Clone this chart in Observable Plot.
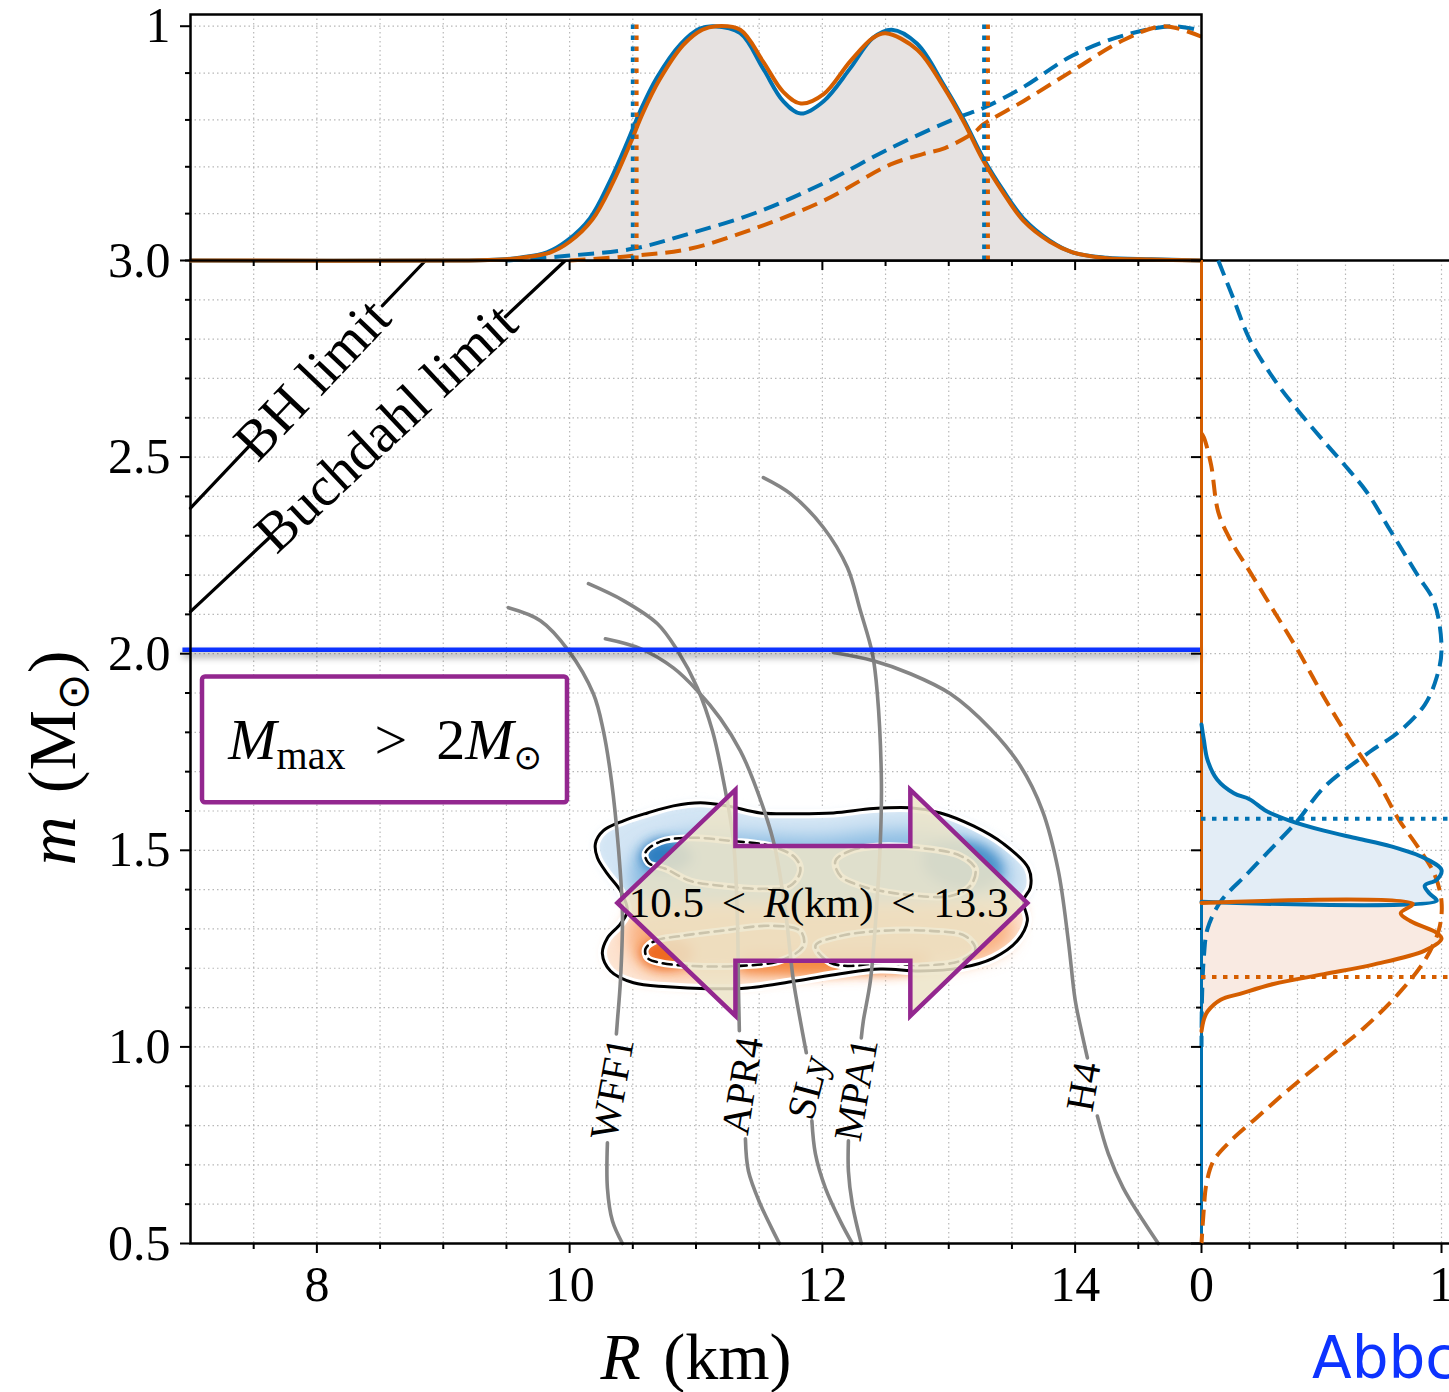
<!DOCTYPE html>
<html>
<head>
<meta charset="utf-8">
<script src="https://cdn.jsdelivr.net/npm/d3@7"></script>
<script src="https://cdn.jsdelivr.net/npm/@observablehq/plot@0.6"></script>
<style>
  html, body { margin: 0; padding: 0; background: #ffffff; overflow: hidden; }
  #wrap { position: relative; width: 1449px; height: 1392px; overflow: hidden; background: #ffffff; }
  #wrap > svg { position: absolute; left: 0; top: 0; background: transparent !important; max-width: none !important; }
  #tag { position: absolute; left: 1312px; top: 1329px; font-family: "DejaVu Sans", sans-serif; font-size: 58px; line-height: 58px; color: #0d33ff; white-space: nowrap; }
</style>
</head>
<body>
<svg width="0" height="0" style="position:absolute;left:0;top:0">
  <defs>
    <filter id="blur3" filterUnits="userSpaceOnUse" x="0" y="0" width="1449" height="1392"><feGaussianBlur stdDeviation="3"/></filter>
    <filter id="blur4" filterUnits="userSpaceOnUse" x="0" y="0" width="1449" height="1392"><feGaussianBlur stdDeviation="4"/></filter>
    <filter id="blur6" filterUnits="userSpaceOnUse" x="0" y="0" width="1449" height="1392"><feGaussianBlur stdDeviation="6"/></filter>
    <filter id="blur9" filterUnits="userSpaceOnUse" x="0" y="0" width="1449" height="1392"><feGaussianBlur stdDeviation="9"/></filter>
  </defs>
</svg>
<div id="wrap"><div id="tag">Abbc</div></div>
<script>
// ======================= DATA =======================
// ticks / grids
const rMajorTicks = [8, 10, 12, 14];
const rMinorTicks = [7.5, 8.5, 9, 9.5, 10.5, 11, 11.5, 12.5, 13, 13.5, 14.5];
const rGrid = [7.5, 8, 8.5, 9, 9.5, 10, 10.5, 11, 11.5, 12, 12.5, 13, 13.5, 14, 14.5];
const mMajorTicks = [0.5, 1.0, 1.5, 2.0, 2.5, 3.0];
const mMinorTicks = [0.6, 0.7, 0.8, 0.9, 1.1, 1.2, 1.3, 1.4, 1.6, 1.7, 1.8, 1.9, 2.1, 2.2, 2.3, 2.4, 2.6, 2.7, 2.8, 2.9];
const mGrid = [0.6, 0.7, 0.8, 0.9, 1.0, 1.1, 1.2, 1.3, 1.4, 1.5, 1.6, 1.7, 1.8, 1.9, 2.0, 2.1, 2.2, 2.3, 2.4, 2.5, 2.6, 2.7, 2.8, 2.9];
const pMajorTop = [1];
const pMinorTop = [0, 0.2, 0.4, 0.6, 0.8];
const pGridTop = [0.2, 0.4, 0.6, 0.8, 1.0];
const pMajorRight = [0, 1];
const pMinorRight = [0.2, 0.4, 0.6, 0.8];
const pGridRight = [0.2, 0.4, 0.6, 0.8, 1.0];

// top marginal: [R (km), normalized density]
const topBlueSolid = [[7.0,0],[9.2,0],[9.45,0.004],[9.6,0.012],[9.82,0.035],[9.98,0.085],[10.16,0.18],[10.32,0.34],[10.46,0.51],[10.56,0.64],[10.69,0.78],[10.88,0.925],[11.03,0.99],[11.14,1.0],[11.35,0.97],[11.53,0.82],[11.69,0.68],[11.83,0.627],[12.01,0.68],[12.22,0.82],[12.40,0.95],[12.55,0.985],[12.75,0.925],[12.96,0.75],[13.12,0.60],[13.27,0.44],[13.43,0.30],[13.59,0.18],[13.80,0.085],[13.98,0.035],[14.25,0.012],[14.6,0.005],[15.0,0]];
const topOrangeSolid = [[7.0,0],[9.2,0],[9.47,0.004],[9.62,0.012],[9.85,0.035],[10.0,0.08],[10.18,0.175],[10.34,0.33],[10.48,0.50],[10.58,0.63],[10.71,0.77],[10.9,0.92],[11.05,0.985],[11.16,1.0],[11.35,0.985],[11.53,0.85],[11.69,0.72],[11.83,0.67],[12.01,0.71],[12.22,0.85],[12.40,0.95],[12.50,0.97],[12.75,0.90],[12.96,0.74],[13.12,0.59],[13.27,0.43],[13.43,0.29],[13.59,0.17],[13.80,0.08],[13.98,0.035],[14.25,0.01],[14.6,0.004],[15.0,0]];
const topBlueDashed = [[9.5,0],[9.98,0.02],[10.5,0.05],[10.95,0.115],[11.48,0.205],[12.01,0.33],[12.54,0.48],[13.07,0.61],[13.27,0.65],[13.59,0.74],[13.98,0.875],[14.38,0.96],[14.78,1.0],[15.0,0.98]];
const topOrangeDashed = [[10.0,0],[10.5,0.02],[10.95,0.05],[11.48,0.14],[12.01,0.255],[12.54,0.41],[12.80,0.455],[12.97,0.48],[13.21,0.55],[13.27,0.58],[13.59,0.68],[13.98,0.81],[14.38,0.94],[14.70,1.0],[15.0,0.955]];
const rBoundsBlue = [10.50, 13.28];
const rBoundsOrange = [10.53, 13.31];

// right marginal: [m (Msun), normalized density]; density is 0 outside these ranges
const rightBlueSolid = [[1.82,0],[1.78,0.01],[1.73,0.025],[1.68,0.065],[1.645,0.135],[1.63,0.20],[1.60,0.27],[1.575,0.37],[1.55,0.51],[1.53,0.65],[1.51,0.79],[1.48,0.93],[1.45,1.0],[1.425,0.98],[1.41,0.93],[1.39,0.95],[1.372,0.98],[1.369,0]];
const rightOrangeSolid = [[1.366,0],[1.364,0.88],[1.34,0.83],[1.32,0.87],[1.29,0.98],[1.275,1.0],[1.245,0.93],[1.21,0.72],[1.185,0.51],[1.16,0.30],[1.135,0.16],[1.12,0.08],[1.09,0.025],[1.07,0.01],[1.04,0]];
const rightBlueDashed = [[3.0,0.07],[2.90,0.135],[2.80,0.20],[2.70,0.30],[2.62,0.40],[2.54,0.51],[2.47,0.61],[2.41,0.69],[2.31,0.79],[2.20,0.90],[2.13,0.97],[2.01,1.0],[1.94,0.98],[1.87,0.93],[1.80,0.82],[1.75,0.70],[1.66,0.51],[1.575,0.40],[1.51,0.30],[1.44,0.19],[1.37,0.08],[1.30,0.025],[1.23,0.01],[1.12,0.002],[1.0,0]];
const rightOrangeDashed = [[2.56,0],[2.55,0.01],[2.48,0.04],[2.36,0.07],[2.29,0.12],[2.21,0.20],[2.11,0.30],[2.01,0.40],[1.89,0.51],[1.78,0.62],[1.68,0.73],[1.58,0.82],[1.51,0.90],[1.44,0.97],[1.37,1.0],[1.30,0.99],[1.22,0.93],[1.135,0.82],[1.05,0.68],[0.98,0.54],[0.895,0.37],[0.82,0.23],[0.76,0.12],[0.71,0.05],[0.65,0.02],[0.59,0.01],[0.5,0]];
const mZeroOrange = [1.366, 3.0];
const mZeroBlue = [0.5, 1.369];
const mBoundBlue = 1.58;
const mBoundOrange = 1.178;

// joint posterior contours: [R, m]
const contourOuter = [[10.204,1.517],[10.267,1.550],[10.426,1.575],[10.616,1.595],[10.821,1.613],[11.035,1.621],[11.248,1.613],[11.509,1.595],[11.802,1.593],[12.087,1.595],[12.403,1.606],[12.696,1.608],[12.934,1.595],[13.195,1.562],[13.432,1.517],[13.630,1.455],[13.646,1.405],[13.590,1.372],[13.622,1.321],[13.543,1.270],[13.353,1.226],[13.092,1.201],[12.775,1.193],[12.459,1.198],[12.142,1.186],[11.802,1.168],[11.407,1.150],[11.090,1.148],[10.774,1.153],[10.505,1.163],[10.323,1.193],[10.259,1.237],[10.299,1.277],[10.402,1.313],[10.457,1.346],[10.402,1.397],[10.299,1.440],[10.220,1.481]];
const contourBlue = [[10.43,1.372],[10.402,1.397],[10.299,1.440],[10.220,1.481],[10.204,1.517],[10.267,1.550],[10.426,1.575],[10.616,1.595],[10.821,1.613],[11.035,1.621],[11.248,1.613],[11.509,1.595],[11.802,1.593],[12.087,1.595],[12.403,1.606],[12.696,1.608],[12.934,1.595],[13.195,1.562],[13.432,1.517],[13.630,1.455],[13.646,1.405],[13.590,1.372],[12.5,1.371],[11.5,1.371]];
const contourOrange = [[13.590,1.372],[13.622,1.321],[13.543,1.270],[13.353,1.226],[13.092,1.201],[12.775,1.193],[12.459,1.198],[12.142,1.186],[11.802,1.168],[11.407,1.150],[11.090,1.148],[10.774,1.153],[10.505,1.163],[10.323,1.193],[10.259,1.237],[10.299,1.277],[10.402,1.313],[10.457,1.346],[10.43,1.372],[11.5,1.371],[12.5,1.371]];
const midBlue = [[10.465,1.422],[10.521,1.486],[10.718,1.524],[11.035,1.545],[11.509,1.539],[11.984,1.534],[12.459,1.550],[12.854,1.550],[13.210,1.519],[13.448,1.468],[13.472,1.410],[13.290,1.377],[10.560,1.377]];
const midOrange = [[10.465,1.308],[10.560,1.346],[11.035,1.359],[11.826,1.359],[12.617,1.359],[13.329,1.351],[13.503,1.316],[13.448,1.257],[13.171,1.219],[12.617,1.201],[11.826,1.193],[11.035,1.188],[10.639,1.198],[10.481,1.244]];
const coreBlueLeft = [[10.560,1.486],[10.623,1.517],[10.758,1.529],[10.916,1.511],[10.972,1.478],[10.877,1.453],[10.718,1.445],[10.600,1.458]];
const coreBlueRight = [[12.815,1.504],[13.092,1.524],[13.329,1.499],[13.424,1.448],[13.290,1.407],[13.013,1.407],[12.815,1.448]];
const coreOrangeLeft = [[10.560,1.244],[10.639,1.270],[10.797,1.277],[10.956,1.257],[10.972,1.224],[10.837,1.201],[10.679,1.201],[10.584,1.219]];
const coreOrangeBand = [[11.351,1.232],[11.826,1.239],[12.459,1.244],[12.854,1.232],[12.775,1.198],[12.222,1.186],[11.668,1.186],[11.351,1.198]];
const lobeBlueLeft = [[10.600,1.494],[10.718,1.522],[10.956,1.532],[11.272,1.524],[11.589,1.511],[11.786,1.481],[11.826,1.448],[11.747,1.410],[11.509,1.402],[11.193,1.410],[10.956,1.422],[10.758,1.453],[10.623,1.468]];
const lobeBlueRight = [[12.103,1.473],[12.222,1.499],[12.459,1.511],[12.775,1.506],[13.092,1.486],[13.210,1.453],[13.171,1.410],[13.013,1.384],[12.617,1.389],[12.301,1.410],[12.142,1.435]];
const lobeOrangeLeft = [[10.600,1.249],[10.679,1.270],[10.877,1.282],[11.193,1.295],[11.589,1.308],[11.826,1.295],[11.850,1.257],[11.668,1.219],[11.351,1.206],[10.956,1.206],[10.718,1.214],[10.616,1.226]];
const lobeOrangeRight = [[11.945,1.257],[12.142,1.282],[12.459,1.295],[12.854,1.295],[13.131,1.282],[13.210,1.249],[13.092,1.219],[12.775,1.206],[12.380,1.206],[12.063,1.214]];

// EOS mass-radius curves: [R, m]; [NaN,NaN] = gap left for the label
const eosWFF1 = [[9.516,2.117],[9.769,2.084],[9.991,2.008],[10.188,1.898],[10.267,1.804],[10.331,1.677],[10.386,1.506],[10.418,1.338],[10.402,1.168],[10.378,1.066],[10.370,1.033],[NaN,NaN],[10.299,0.756],[10.299,0.641],[10.339,0.557],[10.418,0.5]];
const eosAPR4 = [[10.149,2.178],[10.426,2.135],[10.695,2.076],[10.853,2.008],[11.011,1.913],[11.130,1.804],[11.217,1.677],[11.296,1.524],[11.328,1.321],[11.336,1.15],[11.343,1.041],[NaN,NaN],[11.391,0.766],[11.415,0.684],[11.509,0.600],[11.660,0.5]];
const eosSLy = [[10.283,2.038],[10.560,2.013],[10.821,1.964],[11.011,1.906],[11.193,1.835],[11.351,1.753],[11.454,1.677],[11.612,1.524],[11.707,1.346],[11.771,1.168],[11.826,1.066],[11.873,0.985],[NaN,NaN],[11.917,0.812],[11.945,0.728],[12.024,0.641],[12.142,0.557],[12.237,0.5]];
const eosMPA1 = [[11.533,2.448],[11.747,2.407],[12.008,2.321],[12.198,2.219],[12.301,2.109],[12.396,2.0],[12.435,1.898],[12.467,1.677],[12.459,1.524],[12.427,1.346],[12.380,1.168],[12.324,1.066],[12.308,1.023],[NaN,NaN],[12.206,0.761],[12.206,0.684],[12.237,0.600],[12.308,0.5]];
const eosH4 = [[12.087,2.003],[12.403,1.982],[12.696,1.949],[13.013,1.898],[13.329,1.809],[13.566,1.715],[13.741,1.601],[13.867,1.448],[13.946,1.270],[14.0,1.12],[14.05,1.04],[14.097,0.972],[NaN,NaN],[14.176,0.824],[14.263,0.728],[14.381,0.641],[14.540,0.557],[14.658,0.5]];
const eosNames = ["WFF1", "APR4", "SLy", "MPA1", "H4"];
const eosLabelR = [10.34, 11.37, 11.89, 12.27, 14.07];
const eosLabelM = [0.893, 0.901, 0.897, 0.891, 0.899];
const eosLabelAngle = [-80, -81, -75, -80, -80];

// compactness limits: [R, m] with a gap for the label
const bhLimit = [[7.0,2.370],[7.459,2.526],[NaN,NaN],[8.519,2.885],[8.86,3.0]];
const buchdahlLimit = [[7.0,2.107],[7.617,2.293],[NaN,NaN],[9.492,2.857],[9.966,3.0]];
const limitNames = ["BH limit", "Buchdahl limit"];
const limitR = [7.965, 8.55];
const limitM = [2.697, 2.574];
const limitAngle = [-46.5, -43.1];

// annotations
const mMaxLine = 2.01;
const boxR = [7.095, 9.983];
const boxM = [1.621, 1.941];
const boxTextPos = [8.54, 1.779];
const arrowShape = [[10.378,1.366],[11.312,1.654],[11.312,1.511],[12.696,1.511],[12.696,1.654],[13.622,1.366],[12.696,1.079],[12.696,1.219],[11.312,1.219],[11.312,1.079]];
const arrowTextPos = [11.97, 1.366];
const boxTextParts = [{t: "M", i: true}, {t: "max", fs: 40, dy: 10}, {t: "\u2002>\u20022", dy: -10}, {t: "M", i: true}, {t: "\u2299", fs: 34, dy: 10, ff: "DejaVu Sans"}];
const arrowTextParts = [{t: "10.5 < "}, {t: "R", i: true}, {t: "(km) < 13.3"}];
const xLabelParts = [{t: "R", i: true}, {t: " (km)"}];
const yLabelParts = [{t: "m", i: true}, {t: " (M"}, {t: "\u2299", fs: 44, dy: 13, ff: "DejaVu Sans"}, {t: ")", dy: -13}];

// ======================= DRAWING =======================
const W = 1449, H = 1392;
const serif = '"Liberation Serif", "DejaVu Serif", serif';
const blue = "#0072b2", orange = "#d55e00";
const X = d => d[0], Y = d => d[1];
const fx = name => () => "fx:" + name;
const rich = key => () => "rich:" + key;
const gridStyle = {stroke: "#b8b8b8", strokeOpacity: 1, strokeWidth: 1.2, strokeDasharray: "1.5,3"};
const solidStyle = {strokeWidth: 4, curve: "catmull-rom"};
const dashStyle = {strokeWidth: 4, strokeDasharray: "16,8", curve: "catmull-rom", strokeLinecap: "butt"};
const dotStyle = {strokeWidth: 4, strokeDasharray: "4.5,6.5"};
const baseStyle = {fontFamily: serif, fontSize: "50px", background: "transparent"};

const mainPlot = Plot.plot({
  width: W, height: H,
  marginLeft: 190, marginRight: 248, marginTop: 260, marginBottom: 149,
  x: {domain: [7, 15]}, y: {domain: [0.5, 3]},
  style: baseStyle,
  marks: [
    Plot.gridX(rGrid, gridStyle),
    Plot.gridY(mGrid, gridStyle),
    // density shading
    Plot.line(contourBlue, {x: X, y: Y, curve: "catmull-rom-closed", fill: "#d3e5f4", stroke: "none", ariaLabel: fx("blur4")}),
    Plot.line(contourOrange, {x: X, y: Y, curve: "catmull-rom-closed", fill: "#fde3d0", stroke: "none", ariaLabel: fx("blur4")}),
    Plot.line(midBlue, {x: X, y: Y, curve: "catmull-rom-closed", fill: "#8dbde3", stroke: "none", ariaLabel: fx("blur9")}),
    Plot.line(midOrange, {x: X, y: Y, curve: "catmull-rom-closed", fill: "#f9b080", stroke: "none", ariaLabel: fx("blur9")}),
    Plot.line(coreBlueLeft, {x: X, y: Y, curve: "catmull-rom-closed", fill: "#2f7fc1", stroke: "none", ariaLabel: fx("blur6")}),
    Plot.line(coreBlueRight, {x: X, y: Y, curve: "catmull-rom-closed", fill: "#4a92ca", stroke: "none", ariaLabel: fx("blur6")}),
    Plot.line(coreOrangeLeft, {x: X, y: Y, curve: "catmull-rom-closed", fill: "#ee6a22", stroke: "none", ariaLabel: fx("blur6")}),
    Plot.line(coreOrangeBand, {x: X, y: Y, curve: "catmull-rom-closed", fill: "#f48a45", stroke: "none", ariaLabel: fx("blur6")}),
    // inner (dashed) contours
    ...[lobeBlueLeft, lobeBlueRight, lobeOrangeLeft, lobeOrangeRight].map(d => Plot.line(d, {x: X, y: Y, curve: "catmull-rom-closed", stroke: "white", strokeWidth: 7})),
    ...[lobeBlueLeft, lobeBlueRight, lobeOrangeLeft, lobeOrangeRight].map(d => Plot.line(d, {x: X, y: Y, curve: "catmull-rom-closed", stroke: "black", strokeWidth: 2.6, strokeDasharray: "9,6"})),
    // outer contour
    Plot.line(contourOuter, {x: X, y: Y, curve: "catmull-rom-closed", stroke: "white", strokeWidth: 9}),
    Plot.line(contourOuter, {x: X, y: Y, curve: "catmull-rom-closed", stroke: "black", strokeWidth: 3}),
    // EOS curves
    ...[eosWFF1, eosAPR4, eosSLy, eosMPA1, eosH4].map(d => Plot.line(d, {x: X, y: Y, curve: "catmull-rom", stroke: "#858585", strokeWidth: 3.6})),
    Plot.text(eosNames, {x: (d, i) => eosLabelR[i], y: (d, i) => eosLabelM[i], rotate: (d, i) => eosLabelAngle[i], text: d => d, fontSize: 40}),
    // limits
    Plot.line(bhLimit, {x: X, y: Y, stroke: "black", strokeWidth: 3.2, curve: "linear"}),
    Plot.line(buchdahlLimit, {x: X, y: Y, stroke: "black", strokeWidth: 3.2, curve: "linear"}),
    Plot.text(limitNames, {x: (d, i) => limitR[i], y: (d, i) => limitM[i], rotate: (d, i) => limitAngle[i], text: d => d, fontSize: 56}),
    // 2 Msun line with shadow
    Plot.ruleY([mMaxLine], {x1: () => 6.94, x2: () => 15, stroke: "#000", strokeOpacity: 0.28, strokeWidth: 7, dy: 5, ariaLabel: fx("blur3")}),
    Plot.ruleY([mMaxLine], {x1: () => 6.94, x2: () => 15, stroke: "#0d33ff", strokeWidth: 4.5}),
    // box
    Plot.rect([boxR], {x1: () => boxR[0], x2: () => boxR[1], y1: () => boxM[0], y2: () => boxM[1], fill: "white", stroke: "#93278f", strokeWidth: 4.5, rx: 3}),
    Plot.text(["Mmax > 2M"], {x: () => boxTextPos[0], y: () => boxTextPos[1], text: d => d, fontSize: 58, ariaLabel: rich("box")}),
    // arrow
    Plot.line(arrowShape, {x: X, y: Y, curve: "linear-closed", fill: "#ece4c8", fillOpacity: 0.86, stroke: "#93278f", strokeWidth: 4.5, strokeLinejoin: "miter", strokeMiterlimit: 10}),
    Plot.text(["10.5 < R(km) < 13.3"], {x: () => arrowTextPos[0], y: () => arrowTextPos[1], text: d => d, fontSize: 43, ariaLabel: rich("arrow")}),
    // axes
    Plot.axisX(rMajorTicks, {tickSize: 10, tickPadding: 12, strokeWidth: 2, tickFormat: d => String(d), label: null}),
    Plot.axisX(rMinorTicks, {tickSize: 6, strokeWidth: 2, tickFormat: () => "", label: null}),
    Plot.axisY(mMajorTicks, {tickSize: 10, tickPadding: 10, strokeWidth: 2, tickFormat: d3.format(".1f"), label: null}),
    Plot.axisY(mMinorTicks, {tickSize: 5, strokeWidth: 2, tickFormat: () => "", label: null}),
    Plot.frame({stroke: "black", strokeWidth: 2.5}),
    Plot.text(["R (km)"], {frameAnchor: "bottom", dy: 114, lineAnchor: "middle", textAnchor: "middle", text: d => d, fontSize: 66, ariaLabel: rich("xlabel")}),
    Plot.text(["m (M)"], {frameAnchor: "left", dx: -137, dy: 6, rotate: -90, lineAnchor: "middle", textAnchor: "middle", text: d => d, fontSize: 68, ariaLabel: rich("ylabel")})
  ]
});

const topPlot = Plot.plot({
  width: W, height: H,
  marginLeft: 190, marginRight: 248, marginTop: 14, marginBottom: 1132,
  x: {domain: [7, 15]}, y: {domain: [0, 1.05]},
  style: baseStyle,
  marks: [
    Plot.gridX(rGrid, gridStyle),
    Plot.gridY(pGridTop, gridStyle),
    Plot.areaY(topBlueSolid, {x: X, y: Y, fill: "#e6e2e1", curve: "catmull-rom"}),
    Plot.line(topBlueDashed, {x: X, y: Y, stroke: blue, ...dashStyle}),
    Plot.line(topOrangeDashed, {x: X, y: Y, stroke: orange, ...dashStyle}),
    Plot.line(topBlueSolid, {x: X, y: Y, stroke: blue, ...solidStyle}),
    Plot.line(topOrangeSolid, {x: X, y: Y, stroke: orange, ...solidStyle}),
    Plot.ruleX(rBoundsBlue, {y1: () => 0, y2: () => 1.02, stroke: blue, ...dotStyle}),
    Plot.ruleX(rBoundsOrange, {y1: () => 0, y2: () => 1.02, stroke: orange, ...dotStyle}),
    Plot.axisX(rMajorTicks, {tickSize: 10, strokeWidth: 2, tickFormat: () => "", label: null}),
    Plot.axisX(rMinorTicks, {tickSize: 6, strokeWidth: 2, tickFormat: () => "", label: null}),
    Plot.axisY(pMajorTop, {tickSize: 10, tickPadding: 10, strokeWidth: 2, tickFormat: d => String(d), label: null}),
    Plot.axisY(pMinorTop, {tickSize: 5, strokeWidth: 2, tickFormat: () => "", label: null}),
    Plot.frame({stroke: "black", strokeWidth: 2.5})
  ]
});

const rightPlot = Plot.plot({
  width: W, height: H,
  marginLeft: 1201, marginRight: 0, marginTop: 260, marginBottom: 149,
  x: {domain: [0, 1.0333]}, y: {domain: [0.5, 3]},
  style: baseStyle,
  marks: [
    Plot.gridX(pGridRight, gridStyle),
    Plot.gridY(mGrid, gridStyle),
    Plot.areaX(rightBlueSolid, {y: X, x: Y, fill: "#e3edf6", curve: "catmull-rom"}),
    Plot.areaX(rightOrangeSolid, {y: X, x: Y, fill: "#f9eae2", curve: "catmull-rom"}),
    Plot.ruleY([0.5, 3.0], {stroke: "black", strokeWidth: 2.5}),
    Plot.ruleX([0], {stroke: "black", strokeWidth: 2.5}),
    Plot.ruleX([0], {y1: () => mZeroOrange[0], y2: () => mZeroOrange[1], stroke: orange, strokeWidth: 3}),
    Plot.ruleX([0], {y1: () => mZeroBlue[0], y2: () => mZeroBlue[1], stroke: blue, strokeWidth: 3}),
    Plot.line(rightBlueDashed, {x: Y, y: X, stroke: blue, ...dashStyle}),
    Plot.line(rightOrangeDashed, {x: Y, y: X, stroke: orange, ...dashStyle}),
    Plot.line(rightBlueSolid, {x: Y, y: X, stroke: blue, ...solidStyle}),
    Plot.line(rightOrangeSolid, {x: Y, y: X, stroke: orange, ...solidStyle}),
    Plot.ruleY([mBoundBlue], {x1: () => 0, x2: () => 1.0333, stroke: blue, ...dotStyle}),
    Plot.ruleY([mBoundOrange], {x1: () => 0, x2: () => 1.0333, stroke: orange, ...dotStyle}),
    Plot.axisX(pMajorRight, {tickSize: 10, tickPadding: 12, strokeWidth: 2, tickFormat: d => String(d), label: null}),
    Plot.axisX(pMinorRight, {tickSize: 6, strokeWidth: 2, tickFormat: () => "", label: null}),
    Plot.axisY(mMajorTicks, {tickSize: 10, strokeWidth: 2, tickFormat: () => "", label: null}),
    Plot.axisY(mMinorTicks, {tickSize: 5, strokeWidth: 2, tickFormat: () => "", label: null})
  ]
});

const wrap = document.getElementById("wrap");
wrap.insertBefore(mainPlot, wrap.firstChild);
wrap.insertBefore(topPlot, document.getElementById("tag"));
wrap.insertBefore(rightPlot, document.getElementById("tag"));

// post-processing: filters and mixed-style (italic / subscript) text
const SVGNS = "http://www.w3.org/2000/svg";
for (const svg of [mainPlot, topPlot, rightPlot]) {
  svg.querySelectorAll('[aria-label^="fx:"]').forEach(el => {
    el.setAttribute("filter", "url(#" + el.getAttribute("aria-label").slice(3) + ")");
  });
}
function setRich(key, parts, extra) {
  mainPlot.querySelectorAll('[aria-label="rich:' + key + '"]').forEach(t => {
    while (t.firstChild) t.removeChild(t.firstChild);
    for (const p of parts) {
      const s = document.createElementNS(SVGNS, "tspan");
      s.textContent = p.t;
      if (p.i) s.setAttribute("font-style", "italic");
      if (p.fs) s.setAttribute("font-size", p.fs);
      if (p.dy) s.setAttribute("dy", p.dy);
      if (p.ff) s.setAttribute("font-family", p.ff);
      t.appendChild(s);
    }
    if (extra) for (const k in extra) t.setAttribute(k, extra[k]);
  });
}
setRich("box", boxTextParts);
setRich("arrow", arrowTextParts, {"word-spacing": "7px"});
setRich("xlabel", xLabelParts, {"word-spacing": "6px"});
setRich("ylabel", yLabelParts, {"word-spacing": "6px"});
</script>
</body>
</html>
